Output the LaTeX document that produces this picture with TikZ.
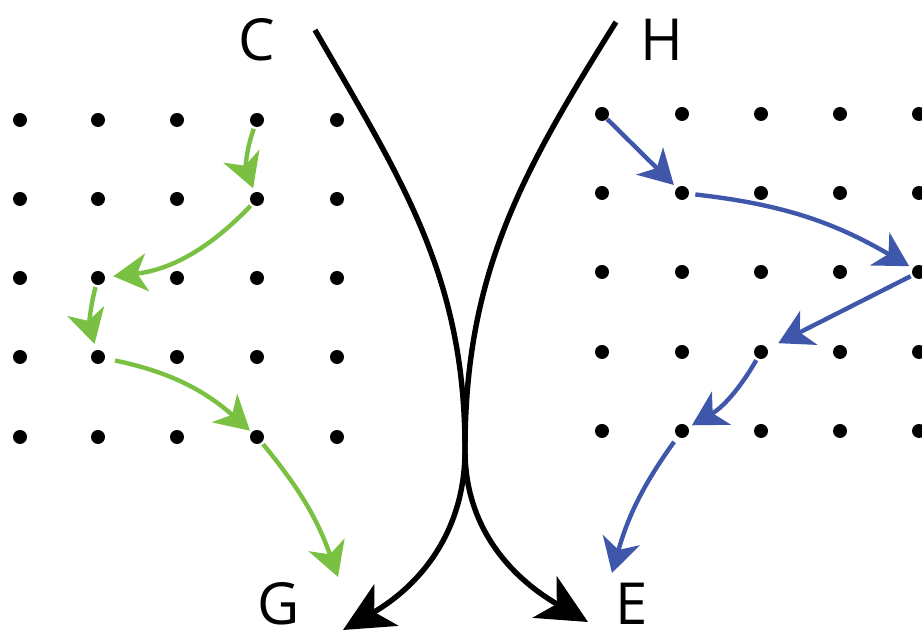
\documentclass[tikz,border=0pt]{standalone}
\usepackage{fontspec}
\setsansfont{Open Sans}
\usetikzlibrary{arrows.meta}
\definecolor{pathgreen}{RGB}{122,193,67}
\definecolor{pathblue}{RGB}{63,87,170}

\begin{document}
\begin{tikzpicture}[x=0.5pt, y=0.5pt,
        dot/.style={circle, fill=black, inner sep=0pt, minimum size=7pt},
        letter/.style={font=\sffamily\fontsize{29}{29}\selectfont, anchor=base, inner sep=0pt},
        walk/.style={line width=2.2pt, -{Stealth[length=17pt, width=19pt, inset=5pt]}},
        chain/.style={line width=2.7pt, -{Stealth[length=25pt, width=24pt, inset=7pt]}}]
        \useasboundingbox (0,0) rectangle (922,640);

        % Left lattice
        \foreach \i/\x in {1/20,2/98,3/177,4/257,5/337}
            \foreach \j/\y in {1/520,2/441,3/362,4/283,5/203}
                \node[dot] (l\i\j) at (\x,\y) {};

        % Right lattice
        \foreach \i/\x in {1/602,2/682,3/761,4/840,5/919}
            \foreach \j/\y in {1/526,2/447,3/368,4/288,5/209}
                \node[dot] (r\i\j) at (\x,\y) {};

        % Labels
        \node[letter] (c_label) at (257,579) {C};
        \node[letter] (h_label) at (662,579) {H};
        \node[letter] (g_label) at (279,15) {G};
        \node[letter] (e_label) at (632,15) {E};

        \coordinate (c_top) at (315,610);
        \coordinate (h_top) at (616,618);
        \coordinate (touch) at (465,190);
        \coordinate (g_tip) at (343,10);
        \coordinate (e_tip) at (588,18);
        \coordinate (green_end) at (338,63);
        \coordinate (blue_end) at (612,67);

        % Main curves
        \draw[chain] (c_top) to[out=-60, in=90] (touch) to[out=-90, in=30] (g_tip);
        \draw[chain] (h_top) to[out=-122, in=90] (touch) to[out=-90, in=150] (e_tip);

        % Green walk
        \draw[walk, pathgreen, shorten <=1pt, shorten >=2pt] (l41) to[bend right=20] (l42);
        \draw[walk, pathgreen, shorten <=1pt, shorten >=4pt] (l42) to[bend left=20] (l23);
        \draw[walk, pathgreen, shorten <=1pt, shorten >=3pt] (l23) to[bend right=15] (l24);
        \draw[walk, pathgreen, shorten <=5pt, shorten >=1pt] (l24) to[bend left=15] (l45);
        \draw[walk, pathgreen, shorten <=1pt] (l45) to[bend left=10] (green_end);

        % Blue walk
        \draw[walk, pathblue, shorten <=0pt, shorten >=2pt] (r11) -- (r22);
        \draw[walk, pathblue, shorten <=3pt, shorten >=2pt] (r22) to[bend left=12] (r53);
        \draw[walk, pathblue, shorten <=1pt, shorten >=6pt] (r53) -- (r34);
        \draw[walk, pathblue, shorten <=1pt, shorten >=2pt] (r34) to[bend left=15] (r25);
        \draw[walk, pathblue, shorten <=3pt] (r25) to[bend right=10] (blue_end);

    \end{tikzpicture}
\end{document}
